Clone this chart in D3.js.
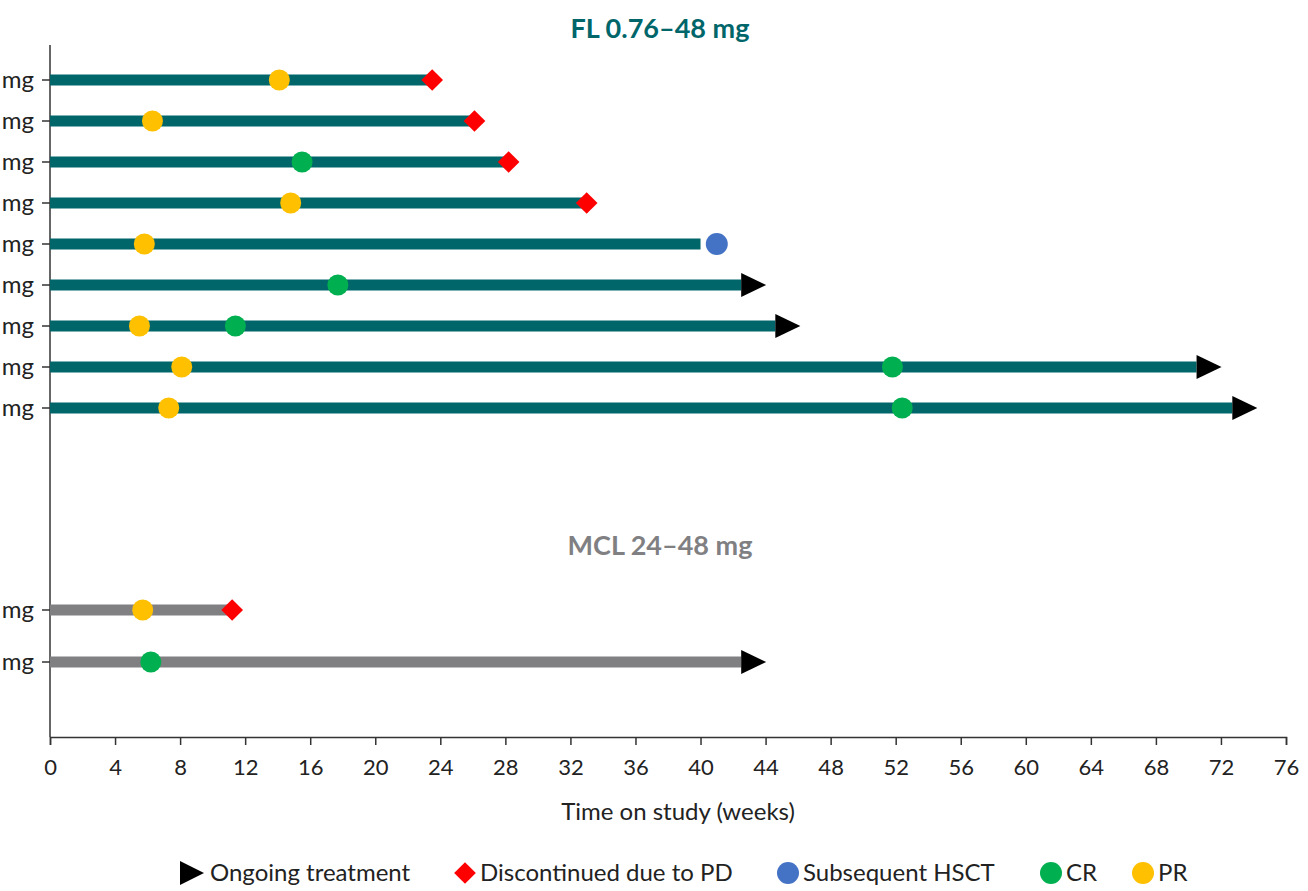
<!DOCTYPE html>
<html>
<head>
<meta charset="utf-8">
<script src="https://cdn.jsdelivr.net/npm/d3@7"></script>
<style>
  html, body { margin: 0; padding: 0; background: #fff; }
  svg { display: block; font-family: Lato, "Open Sans", sans-serif; }
</style>
</head>
<body>
<svg id="chart" width="1308" height="891"></svg>
<script>
// ---------- data ----------
const flRows = ['fl1', 'fl2', 'fl3', 'fl4', 'fl5', 'fl6', 'fl7', 'fl8', 'fl9'];
const flRowLabels = ['mg', 'mg', 'mg', 'mg', 'mg', 'mg', 'mg', 'mg', 'mg'];
const flEnd = [23.5, 26.1, 28.2, 33.0, 40.0, 42.5, 44.6, 70.5, 72.7];
const flEndType = ['PD', 'PD', 'PD', 'PD', 'HSCT', 'ongoing', 'ongoing', 'ongoing', 'ongoing'];
const flPR = [14.1, 6.3, null, 14.8, 5.8, null, 5.5, 8.1, 7.3];
const flCR = [null, null, 15.5, null, null, 17.7, 11.4, 51.8, 52.4];
const flHSCT = [null, null, null, null, 41.0, null, null, null, null];

const mclRows = ['mcl1', 'mcl2'];
const mclRowLabels = ['mg', 'mg'];
const mclEnd = [11.2, 42.5];
const mclEndType = ['PD', 'ongoing'];
const mclPR = [5.7, null];
const mclCR = [null, 6.2];

const xTicks = d3.range(0, 77, 4);
const legendItems = ['Ongoing treatment', 'Discontinued due to PD', 'Subsequent HSCT', 'CR', 'PR'];

// ---------- styles ----------
const C = {
  teal: '#00666A', gray: '#808083', pr: '#FFC000', cr: '#00B050',
  hsct: '#4472C4', pd: '#FF0000', arrow: '#000', axis: '#333', text: '#222'
};

const svg = d3.select('#chart');
const x = d3.scaleLinear().domain([0, 76]).range([50, 1286]);
const yFL = d3.scalePoint().domain(flRows).range([80, 408]);
const yMCL = d3.scalePoint().domain(mclRows).range([610, 662]);

const plotTop = 45, plotBottom = 737;

// y axis line
svg.append('line')
  .attr('x1', x(0)).attr('x2', x(0)).attr('y1', plotTop).attr('y2', plotBottom)
  .attr('stroke', C.axis).attr('stroke-width', 1.5);

// x axis
const xAxis = svg.append('g')
  .attr('transform', `translate(0,${plotBottom})`)
  .call(d3.axisBottom(x).tickValues(xTicks).tickSize(8).tickSizeOuter(8).tickPadding(14));
xAxis.select('.domain').attr('stroke', C.axis).attr('stroke-width', 1.5);
xAxis.selectAll('.tick line').attr('stroke', C.axis).attr('stroke-width', 1.5);
xAxis.selectAll('.tick text')
  .attr('fill', C.text).style('font-size', '22px').style('font-family', 'Lato, sans-serif');

svg.append('text')
  .attr('x', 678).attr('y', 820)
  .attr('text-anchor', 'middle')
  .attr('fill', C.text).style('font-size', '24px')
  .text('Time on study (weeks)');

// titles
svg.append('text')
  .attr('x', 660).attr('y', 38).attr('text-anchor', 'middle')
  .attr('fill', C.teal).style('font-size', '27px').style('font-weight', 'bold')
  .text('FL 0.76–48 mg');
svg.append('text')
  .attr('x', 660).attr('y', 555).attr('text-anchor', 'middle')
  .attr('fill', C.gray).style('font-size', '27px').style('font-weight', 'bold')
  .text('MCL 24–48 mg');

const diamond = d3.symbol().type(d3.symbolDiamond2).size(300);

function drawPanel(rows, labels, ends, endTypes, pr, cr, hsct, y, color) {
  const g = svg.append('g');
  rows.forEach((r, i) => {
    const cy = y(r);
    // tick + label
    g.append('line')
      .attr('x1', x(0) - 8).attr('x2', x(0)).attr('y1', cy).attr('y2', cy)
      .attr('stroke', C.axis).attr('stroke-width', 1.5);
    g.append('text')
      .attr('x', x(0) - 16).attr('y', cy).attr('dy', '0.32em')
      .attr('text-anchor', 'end').attr('fill', C.text).style('font-size', '24px')
      .text(labels[i]);
    // bar
    g.append('line')
      .attr('x1', x(0)).attr('x2', x(ends[i])).attr('y1', cy).attr('y2', cy)
      .attr('stroke', color).attr('stroke-width', 11);
    // end marker
    const ex = x(ends[i]);
    if (endTypes[i] === 'PD') {
      g.append('path').attr('d', diamond)
        .attr('transform', `translate(${ex},${cy})`)
        .attr('fill', C.pd);
    } else if (endTypes[i] === 'ongoing') {
      g.append('path')
        .attr('d', `M${ex},${cy - 12}L${ex + 25},${cy}L${ex},${cy + 12}Z`)
        .attr('fill', C.arrow);
    }
    if (hsct && hsct[i] != null) {
      g.append('circle').attr('cx', x(hsct[i])).attr('cy', cy).attr('r', 11).attr('fill', C.hsct);
    }
    if (pr[i] != null) {
      g.append('circle').attr('cx', x(pr[i])).attr('cy', cy).attr('r', 10.5).attr('fill', C.pr);
    }
    if (cr[i] != null) {
      g.append('circle').attr('cx', x(cr[i])).attr('cy', cy).attr('r', 10.5).attr('fill', C.cr);
    }
  });
}

drawPanel(flRows, flRowLabels, flEnd, flEndType, flPR, flCR, flHSCT, yFL, C.teal);
drawPanel(mclRows, mclRowLabels, mclEnd, mclEndType, mclPR, mclCR, null, yMCL, C.gray);

// ---------- legend ----------
const legY = 873;
const legX = [180, 465, 788, 1051, 1143];
const lg = svg.append('g');
legendItems.forEach((name, i) => {
  const lx = legX[i];
  let textX = lx + 15;
  if (i === 0) {
    lg.append('path').attr('d', `M${lx},${legY - 12}L${lx + 24},${legY}L${lx},${legY + 12}Z`).attr('fill', C.arrow);
    textX = lx + 30;
  } else if (i === 1) {
    lg.append('path').attr('d', diamond).attr('transform', `translate(${lx},${legY})`).attr('fill', C.pd);
  } else {
    const col = [null, null, C.hsct, C.cr, C.pr][i];
    lg.append('circle').attr('cx', lx).attr('cy', legY).attr('r', 11).attr('fill', col);
  }
  lg.append('text')
    .attr('x', textX).attr('y', legY).attr('dy', '0.35em')
    .attr('fill', C.text).style('font-size', '24px')
    .text(name);
});
</script>
</body>
</html>
